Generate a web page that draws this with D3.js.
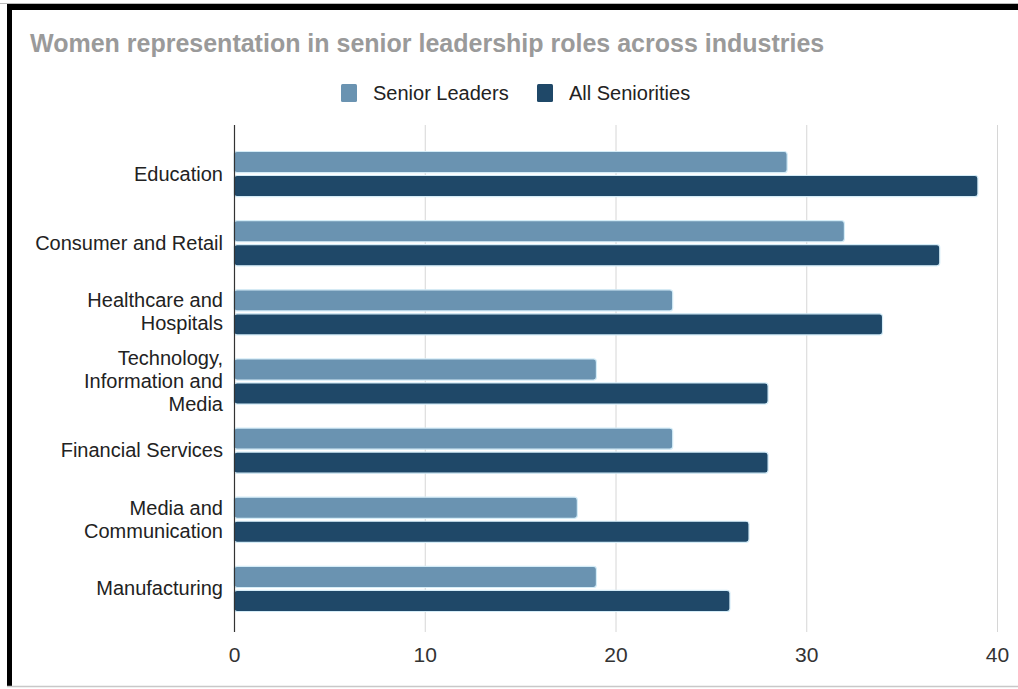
<!DOCTYPE html>
<html>
<head>
<meta charset="utf-8">
<script src="https://cdn.jsdelivr.net/npm/d3@7"></script>
<style>
  body { margin: 0; background: #fff; }
  svg { display: block; font-family: "Liberation Sans", Arial, sans-serif; }
</style>
</head>
<body>
<div id="chart"></div>
<script>
// datos del grafico
const industries = [
  ["Education"],
  ["Consumer and Retail"],
  ["Healthcare and", "Hospitals"],
  ["Technology,", "Information and", "Media"],
  ["Financial Services"],
  ["Media and", "Communication"],
  ["Manufacturing"]
];
const seriesNames = ["Senior Leaders", "All Seniorities"];
const seniorLeaders = [29, 32, 23, 19, 23, 18, 19];
const allSeniorities = [39, 37, 34, 28, 28, 27, 26];
const xTicks = [0, 10, 20, 30, 40];

var width = 1018,
    height = 689;

var svg = d3.select("#chart")
  .append("svg")
    .attr("width", width)
    .attr("height", height);

// marco
svg.append("rect").attr("x", 0).attr("y", 0).attr("width", width).attr("height", height).attr("fill", "#fff");
svg.append("line").attr("x1", 0).attr("x2", width).attr("y1", 3.5).attr("y2", 3.5).attr("stroke", "#bbb").attr("stroke-width", 1);
svg.append("rect").attr("x", 7).attr("y", 4).attr("width", width - 7).attr("height", 6).attr("fill", "#000");
svg.append("rect").attr("x", 7).attr("y", 4).attr("width", 5).attr("height", 682).attr("fill", "#000");
svg.append("line").attr("x1", 7).attr("x2", width).attr("y1", 686.5).attr("y2", 686.5).attr("stroke", "#c8c8c8").attr("stroke-width", 1.5);

// titulo
svg.append("text")
  .attr("x", 30).attr("y", 52)
  .text("Women representation in senior leadership roles across industries")
  .style("font-size", "25px").style("font-weight", "bold").attr("fill", "#9a9a9a");

// escalas
var x = d3.scaleLinear().domain([0, 40]).range([234, 997]);
var y = d3.scaleBand()
  .domain(industries.map(function(d, i) { return i; }))
  .range([139.5, 623.5]);
var sub = d3.scaleBand().domain(seriesNames).range([0, y.bandwidth()]).paddingInner(0.12).paddingOuter(0.5);
var color = d3.scaleOrdinal().domain(seriesNames).range(["#6a93b1", "#1f4868"]);

// grid
svg.append("g")
  .selectAll("line")
  .data(xTicks.slice(1))
  .enter().append("line")
    .attr("x1", function(d) { return x(d) + 0.5; })
    .attr("x2", function(d) { return x(d) + 0.5; })
    .attr("y1", 125).attr("y2", 632)
    .attr("stroke", "#d6d6d6").attr("stroke-width", 1);

// eje x
var xAxis = svg.append("g")
  .attr("transform", "translate(0,632)")
  .call(d3.axisBottom(x).tickValues(xTicks).tickSize(0).tickPadding(15));
xAxis.select(".domain").remove();
xAxis.selectAll("text").style("font-size", "21px").attr("fill", "#333").style("font-family", "inherit");

// barras
var rows = [];
industries.forEach(function(d, i) {
  rows.push({ i: i, s: seriesNames[0], v: seniorLeaders[i] });
  rows.push({ i: i, s: seriesNames[1], v: allSeniorities[i] });
});

svg.append("g")
  .selectAll("rect")
  .data(rows)
  .enter().append("rect")
    .attr("x", x(0))
    .attr("y", function(d) { return y(d.i) + sub(d.s); })
    .attr("width", function(d) { return x(d.v) - x(0); })
    .attr("height", sub.bandwidth())
    .attr("rx", 3)
    .attr("fill", function(d) { return color(d.s); })
    .attr("stroke", "#d4ecf7")
    .attr("stroke-width", 1.2);

// eje y
svg.append("line")
  .attr("x1", 234.5).attr("x2", 234.5).attr("y1", 125).attr("y2", 632)
  .attr("stroke", "#333").attr("stroke-width", 1.2);

// etiquetas
var labels = svg.append("g")
  .selectAll("text")
  .data(industries)
  .enter().append("text")
    .attr("x", 223)
    .attr("y", function(d, i) { return y(i) + y.bandwidth() / 2 - (d.length - 1) * 11.5 + 6.5; })
    .attr("text-anchor", "end")
    .style("font-size", "20px")
    .attr("fill", "#222");
labels.selectAll("tspan")
  .data(function(d) { return d; })
  .enter().append("tspan")
    .attr("x", 223)
    .attr("dy", function(d, k) { return k == 0 ? 0 : 23; })
    .text(function(d) { return d; });

// leyenda
var legend = svg.append("g");
var legX = [341, 537];
seriesNames.forEach(function(s, k) {
  legend.append("rect").attr("x", legX[k]).attr("y", 84).attr("width", 16).attr("height", 18).attr("rx", 1.5).attr("fill", color(s));
  legend.append("text").attr("x", legX[k] + 32).attr("y", 100).text(s).style("font-size", "20px").attr("fill", "#222");
});
</script>
</body>
</html>
